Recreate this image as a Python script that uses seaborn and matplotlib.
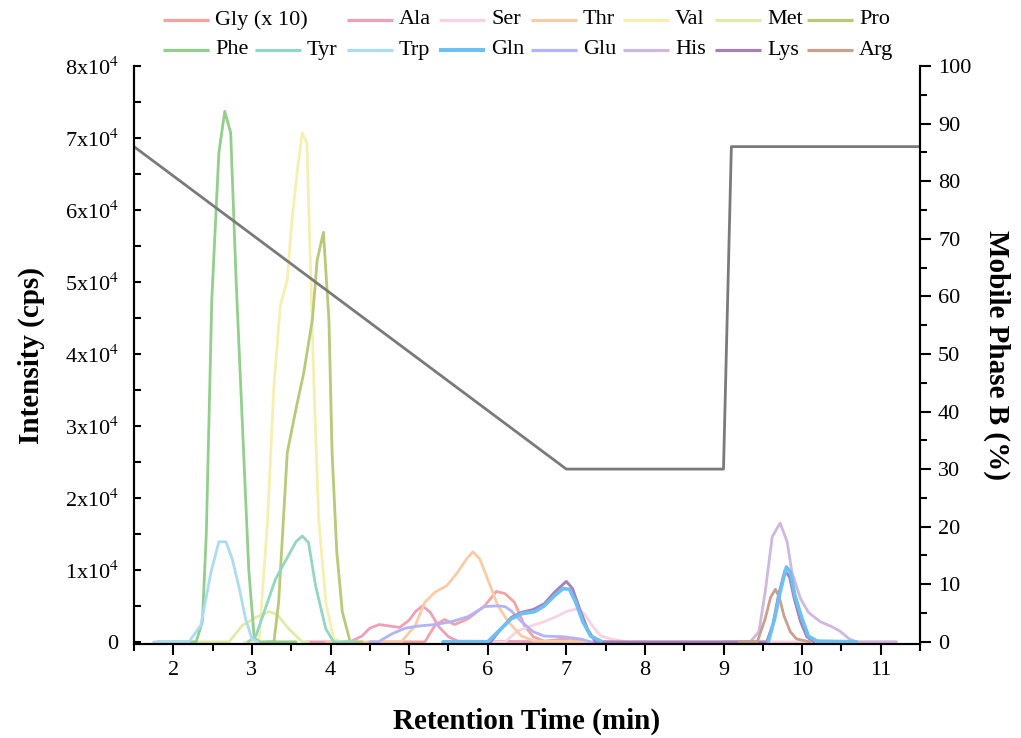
import numpy as np
import pandas as pd
import matplotlib
matplotlib.use("Agg")
import matplotlib.pyplot as plt
from matplotlib.lines import Line2D
import seaborn as sns
from matplotlib.ticker import MultipleLocator, FixedLocator

# ---------------- data ----------------
names = ["Gly (x 10)", "Ala", "Ser", "Thr", "Val", "Met", "Pro",
         "Phe", "Tyr", "Trp", "Gln", "Glu", "His", "Lys", "Arg"]
colors = ["#f4a3a3", "#ef9fb8", "#f9d3e2", "#f9cca5", "#f6f0b0", "#e1eaaa", "#b8c978",
          "#93cf8c", "#93d6c3", "#acdcf1", "#6cc0f4", "#b3b3fa", "#cfb8dd", "#a680b6", "#c9a08c"]

gly_t = [4.5, 5.2, 5.33, 5.45, 5.58, 5.75, 5.96, 6.11, 6.22, 6.34, 6.47, 6.58, 6.72, 6.9, 7.06, 7.2, 7.3]
gly_y = [0, 0, 2300, 3100, 2400, 3200, 5000, 7000, 6700, 5500, 2200, 700, 100, 300, 500, 100, 0]

ala_t = [3.7, 4.25, 4.40, 4.50, 4.62, 4.75, 4.88, 5.0, 5.08, 5.17, 5.27, 5.37, 5.50, 5.62, 7.3]
ala_y = [0, 0, 800, 1900, 2400, 2200, 2000, 3000, 4200, 5000, 4100, 2200, 700, 100, 0]

ser_t = [6.0, 6.22, 6.38, 6.55, 6.72, 6.89, 7.02, 7.15, 7.23, 7.34, 7.44, 7.61, 7.78, 11.2]
ser_y = [0, 0, 1500, 2200, 2800, 3600, 4300, 4600, 3900, 2100, 800, 300, 0, 0]

thr_t = [3.95, 4.9, 5.08, 5.20, 5.33, 5.48, 5.62, 5.73, 5.81, 5.90, 6.0, 6.13, 6.26, 6.43, 6.6, 7.3]
thr_y = [0, 0, 2300, 5500, 6900, 7800, 9700, 11500, 12500, 11500, 8700, 5000, 2800, 800, 100, 0]

val_t = [2.9, 3.09, 3.20, 3.28, 3.36, 3.45, 3.51, 3.58, 3.64, 3.70, 3.74, 3.79, 3.85, 3.94, 4.04, 4.15]
val_y = [0, 0, 17000, 35500, 46600, 50300, 58700, 65600, 70700, 69300, 54000, 35500, 17000, 5500, 400, 0]

met_t = [2.2, 2.71, 2.88, 3.05, 3.22, 3.32, 3.47, 3.64, 3.72]
met_y = [0, 0, 2300, 3400, 4200, 3800, 1800, 0, 0]

pro_t = [3.2, 3.28, 3.34, 3.45, 3.56, 3.66, 3.77, 3.83, 3.91, 3.98, 4.02, 4.08, 4.15, 4.25, 4.4]
pro_y = [0, 0, 5500, 26300, 32300, 37400, 44800, 53000, 56900, 44800, 26300, 12500, 4200, 0, 0]

phe_t = [1.8, 2.29, 2.37, 2.42, 2.49, 2.58, 2.655, 2.73, 2.80, 2.88, 2.96, 3.03, 3.1, 3.56]
phe_y = [0, 0, 2800, 15000, 47600, 68000, 73700, 70700, 50000, 30000, 10000, 500, 0, 0]

tyr_t = [2.95, 3.05, 3.17, 3.30, 3.43, 3.56, 3.64, 3.72, 3.81, 3.94, 4.04, 4.3]
tyr_y = [0, 800, 4600, 8700, 11300, 13900, 14700, 13800, 7800, 1800, 0, 0]

trp_t = [1.75, 2.2, 2.35, 2.48, 2.58, 2.67, 2.75, 2.84, 2.92, 3.0, 3.08]
trp_y = [0, 0, 2300, 9700, 13900, 13900, 11500, 7400, 3200, 400, 0]

# Gln has two separate elution windows
gln_t1 = [5.43, 6.0, 6.13, 6.30, 6.43, 6.6, 6.72, 6.85, 6.96, 7.04, 7.12, 7.21, 7.31, 7.44]
gln_y1 = [0, 0, 1400, 3200, 3900, 4200, 5000, 6400, 7400, 7300, 5500, 2800, 800, 100]
gln_t2 = [9.57, 9.65, 9.72, 9.80, 9.85, 9.91, 10.0, 10.08, 10.19, 10.69]
gln_y2 = [0, 3200, 6900, 10400, 9700, 6400, 3200, 800, 100, 0]

glu_t = [4.5, 4.61, 4.78, 4.95, 5.12, 5.33, 5.54, 5.75, 5.96, 6.13, 6.22, 6.30, 6.43, 6.58, 6.72, 6.97, 7.18, 7.31, 7.6]
glu_y = [0, 0, 1100, 1900, 2200, 2400, 2800, 3500, 4900, 5000, 4900, 4300, 2800, 1400, 800, 700, 400, 0, 0]

his_t = [9.0, 9.34, 9.45, 9.53, 9.62, 9.72, 9.81, 9.87, 9.98, 10.08, 10.23, 10.38, 10.48, 10.6, 10.69, 11.2]
his_y = [0, 0, 1400, 6900, 14600, 16500, 13900, 9700, 6000, 4100, 2800, 2100, 1500, 400, 0, 0]

lys_t = [5.9, 6.04, 6.17, 6.30, 6.43, 6.58, 6.72, 6.85, 7.0, 7.08, 7.17, 7.27, 7.37,
         9.55, 9.63, 9.70, 9.78, 9.84, 9.90, 9.98, 10.06, 10.15]
lys_y = [0, 0, 1800, 3400, 4100, 4500, 5300, 6900, 8400, 7400, 4600, 1800, 0,
         0, 2500, 6500, 9900, 9000, 6000, 2800, 700, 0]

arg_t = [9.2, 9.43, 9.53, 9.60, 9.66, 9.71, 9.77, 9.85, 9.93, 10.1]
arg_y = [0, 0, 3200, 6200, 7300, 6200, 3600, 1400, 400, 0]

grad_t = [1.5, 7.0, 9.0, 9.1, 11.5]
grad_b = [86, 30, 30, 86, 86]

x_ticks = [2, 3, 4, 5, 6, 7, 8, 9, 10, 11]
y_ticks = [0, 10000, 20000, 30000, 40000, 50000, 60000, 70000, 80000]
y_tick_labels = ["0"] + [f"{i}x10$^4$" for i in range(1, 9)]
b_ticks = [0, 10, 20, 30, 40, 50, 60, 70, 80, 90, 100]

def frame(segments):
    parts = []
    for k, (t, y) in enumerate(segments):
        parts.append(pd.DataFrame({"time": t, "intensity": y, "seg": k}))
    return pd.concat(parts, ignore_index=True)

series = {
    "Gly (x 10)": frame([(gly_t, gly_y)]),
    "Ala": frame([(ala_t, ala_y)]),
    "Ser": frame([(ser_t, ser_y)]),
    "Thr": frame([(thr_t, thr_y)]),
    "Val": frame([(val_t, val_y)]),
    "Met": frame([(met_t, met_y)]),
    "Pro": frame([(pro_t, pro_y)]),
    "Phe": frame([(phe_t, phe_y)]),
    "Tyr": frame([(tyr_t, tyr_y)]),
    "Trp": frame([(trp_t, trp_y)]),
    "Gln": frame([(gln_t1, gln_y1), (gln_t2, gln_y2)]),
    "Glu": frame([(glu_t, glu_y)]),
    "His": frame([(his_t, his_y)]),
    "Lys": frame([(lys_t, lys_y)]),
    "Arg": frame([(arg_t, arg_y)]),
}

# ---------------- style ----------------
sns.set_style("ticks")
plt.rcParams["font.family"] = ["Liberation Serif", "DejaVu Serif"]
plt.rcParams["mathtext.fontset"] = "stix"
for k in ("text.color", "axes.labelcolor", "xtick.color", "ytick.color", "axes.edgecolor"):
    plt.rcParams[k] = "black"

W, H = 1021, 738
fig = plt.figure(figsize=(W / 100, H / 100), dpi=100)
ax = fig.add_axes([134 / W, 1 - 644 / H, (920 - 134) / W, (644 - 66) / H])

lws = {}
for name, c in zip(names, colors):
    df = series[name]
    lw = 2.6 if name == "Gln" else 2.0
    lws[name] = lw
    sns.lineplot(data=df, x="time", y="intensity", units="seg", ax=ax, color=c, linewidth=lw,
                 estimator=None, sort=False, legend=False,
                 zorder=3 if name == "Gln" else 2)

ax.set_xlim(1.5, 11.5)
ax.set_ylim(-300, 80000)
ax.xaxis.set_major_locator(FixedLocator(x_ticks))
ax.xaxis.set_minor_locator(MultipleLocator(0.5))
ax.set_yticks(y_ticks)
ax.set_yticklabels(y_tick_labels)
ax.yaxis.set_minor_locator(MultipleLocator(5000))
ax.tick_params(axis="x", which="major", direction="out", length=8, width=1.5, labelsize=16, pad=4)
ax.tick_params(axis="x", which="minor", direction="out", length=5, width=1.5)
ax.tick_params(axis="y", which="both", direction="in", length=5, width=1.5, labelsize=16, pad=11)
ax.set_xlabel("Retention Time (min)", fontsize=21, fontweight="bold", labelpad=20)
ax.set_ylabel("Intensity (cps)", fontsize=21, fontweight="bold", labelpad=14)

ax2 = ax.twinx()
gdf = pd.DataFrame({"time": grad_t, "B": grad_b})
sns.lineplot(data=gdf, x="time", y="B", ax=ax2, color="#7a7a7a", linewidth=2.0,
             estimator=None, sort=False, legend=False)
ax2.set_ylim(-300 / 800, 100)
ax2.set_xlim(1.5, 11.5)
ax2.set_yticks(b_ticks)
ax2.yaxis.set_minor_locator(MultipleLocator(5))
ax2.tick_params(axis="y", which="major", direction="out", length=8, width=1.5, labelsize=16, pad=5)
ax2.tick_params(axis="y", which="minor", direction="out", length=5, width=1.5)
ax2.set_ylabel("Mobile Phase B (%)", fontsize=21, fontweight="bold", rotation=270, labelpad=28)

for a in (ax, ax2):
    a.spines["top"].set_visible(False)
    for s in ("left", "right", "bottom"):
        a.spines[s].set_linewidth(1.5)
        a.spines[s].set_color("black")

# ---------------- legend: grid of 8 columns, Gly spans two cells ----------------
legend_cells = {"Gly (x 10)": (0, 0), "Ala": (0, 2), "Ser": (0, 3), "Thr": (0, 4),
                "Val": (0, 5), "Met": (0, 6), "Pro": (0, 7),
                "Phe": (1, 0), "Tyr": (1, 1), "Trp": (1, 2), "Gln": (1, 3),
                "Glu": (1, 4), "His": (1, 5), "Lys": (1, 6), "Arg": (1, 7)}
x_start, pitch, hlen, tgap = 163, 92, 46, 6
row_y = [20, 50]
for name, c in zip(names, colors):
    r, col = legend_cells[name]
    x0 = x_start + col * pitch
    yy = 1 - row_y[r] / H
    fig.add_artist(Line2D([x0 / W, (x0 + hlen) / W], [yy, yy], transform=fig.transFigure,
                          color=c, linewidth=lws[name] + 0.3, solid_capstyle="butt"))
    fig.text((x0 + hlen + tgap) / W, yy, name, fontsize=16, va="center", ha="left")

fig.savefig("out.png", dpi=100)
